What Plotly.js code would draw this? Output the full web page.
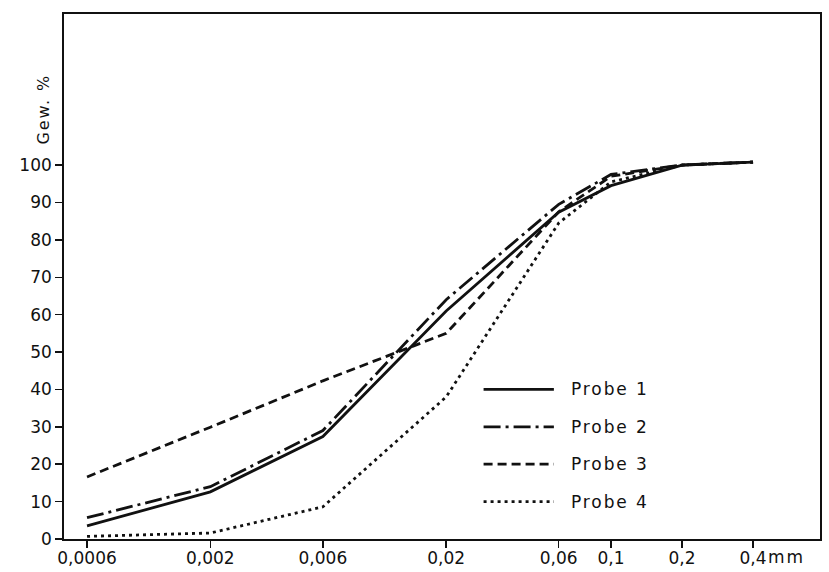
<!DOCTYPE html>
<html>
<head>
<meta charset="utf-8">
<script src="https://cdn.plot.ly/plotly-3.0.1.min.js"></script>
<style>
  html, body { margin: 0; padding: 0; background: #ffffff; }
  #chart { width: 829px; height: 572px; }
  .annotation-text { letter-spacing: 1.9px; }
</style>
</head>
<body>
<div id="chart"></div>
<script>
// Korngrößenverteilung (Summenkurven) von vier Bodenproben
const grainSizes = [0.0006, 0.002, 0.006, 0.02, 0.06, 0.1, 0.2, 0.4];
const sizeLabels = ['0,0006', '0,002', '0,006', '0,02', '0,06', '0,1', '0,2', '0,4'];

const probe1 = [3.5, 12.6, 27.4, 61, 87.4, 94.5, 100, 100.8];
const probe2 = [5.7, 14, 29, 64, 89.5, 97.5, 100, 100.8];
const probe3 = [16.6, 29.9, 42.3, 55, 87.5, 97, 100, 100.8];
const probe4 = [0.7, 1.6, 8.6, 38, 84.5, 95.5, 100, 100.8];

const seriesNames = ['Probe 1', 'Probe 2', 'Probe 3', 'Probe 4'];
const seriesValues = [probe1, probe2, probe3, probe4];
const seriesDash = ['solid', '17px,5px,3px,5px', '9px,5px', '3px,4px'];

const ink = '#111111';
const fontFamily = '"DejaVu Sans", "Liberation Sans", sans-serif';

const traces = seriesValues.map((vals, i) => ({
  type: 'scatter',
  mode: 'lines',
  name: seriesNames[i],
  x: grainSizes,
  y: vals,
  line: { color: ink, width: 2.8, dash: seriesDash[i] },
  hoverinfo: 'x+y+name',
  showlegend: false
}));

// Legend drawn as line samples beside the curves, one row per sample
const legendShapes = [];
const legendTexts = [];
seriesNames.forEach((name, i) => {
  const yRow = 40 - 10 * i;
  legendShapes.push({
    type: 'line', xref: 'paper', yref: 'y',
    x0: 0.555, x1: 0.648, y0: yRow, y1: yRow,
    line: { color: ink, width: 2.8, dash: seriesDash[i] }
  });
  legendTexts.push({
    xref: 'paper', yref: 'y', x: 0.668, y: yRow,
    xanchor: 'left', yanchor: 'middle', showarrow: false,
    text: name, font: { family: fontFamily, size: 17, color: ink }
  });
});

const layout = {
  width: 829, height: 572,
  margin: { l: 64, r: 9, t: 14, b: 33 },
  paper_bgcolor: '#ffffff',
  plot_bgcolor: '#ffffff',
  font: { family: fontFamily, size: 17, color: ink },
  xaxis: {
    type: 'log',
    range: [-3.3195, -0.114],
    tickvals: grainSizes,
    ticktext: sizeLabels,
    ticks: 'outside', ticklen: 7, tickwidth: 1.5, tickcolor: ink,
    ticklabelstandoff: -4,
    showline: true, linecolor: ink, linewidth: 1.8, mirror: true,
    showgrid: false, zeroline: false,
    tickfont: { family: fontFamily, size: 17, color: ink }
  },
  yaxis: {
    range: [0, 140.4],
    tickvals: [0, 10, 20, 30, 40, 50, 60, 70, 80, 90, 100],
    ticks: 'outside', ticklen: 7, tickwidth: 1.5, tickcolor: ink,
    showline: true, linecolor: ink, linewidth: 1.8, mirror: true,
    showgrid: false, zeroline: false,
    tickfont: { family: fontFamily, size: 17, color: ink }
  },
  shapes: legendShapes,
  annotations: legendTexts.concat([
    {
      xref: 'paper', yref: 'y', x: -0.027, y: 115,
      xanchor: 'center', yanchor: 'middle', textangle: -90, showarrow: false,
      text: 'Gew. %', font: { family: fontFamily, size: 16, color: ink }
    },
    {
      xref: 'x', yref: 'paper', x: Math.log10(0.4), y: 0,
      xshift: 13, yshift: -18,
      xanchor: 'left', yanchor: 'middle', showarrow: false,
      text: 'mm', font: { family: fontFamily, size: 17, color: ink }
    }
  ])
};

Plotly.newPlot('chart', traces, layout, { displayModeBar: false, staticPlot: true });
</script>
</body>
</html>
